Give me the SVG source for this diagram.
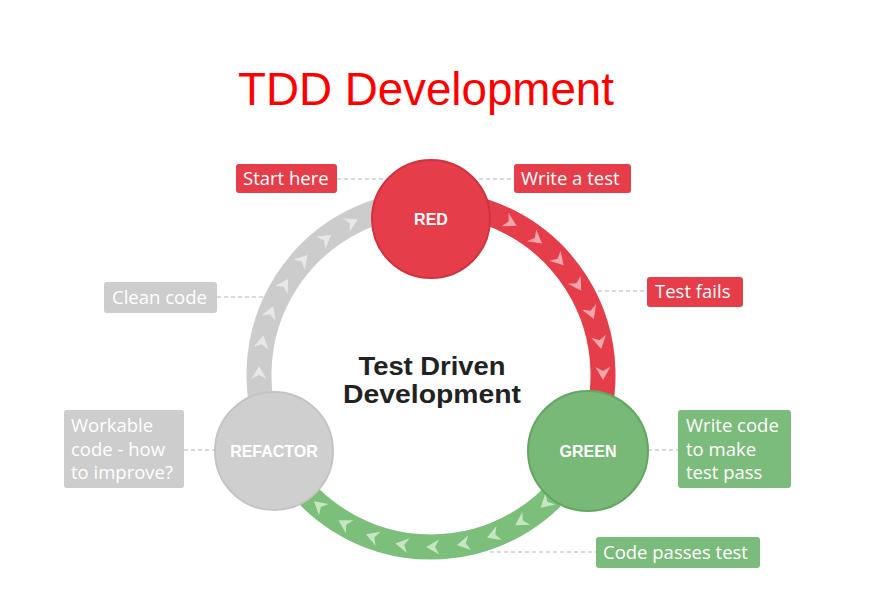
<svg xmlns="http://www.w3.org/2000/svg" xmlns:xlink="http://www.w3.org/1999/xlink" width="872" height="605" viewBox="0 0 872 605">
<defs>
<style>
.title{font-family:"Liberation Sans",Arial,sans-serif;font-size:46px;fill:#ff0000}
.lbl{font-family:"Open Sans","Noto Sans",sans-serif;font-size:18.5px;fill:#ffffff}
.cl{font-family:"Liberation Sans",Arial,sans-serif;font-size:16px;font-weight:bold;fill:#ffffff;text-anchor:middle;dominant-baseline:central}
.mid{font-family:"Liberation Sans",Arial,sans-serif;font-size:25px;font-weight:bold;fill:#222222;text-anchor:middle}
.dash{stroke:#b5b5b5;stroke-width:1;stroke-dasharray:4 3;fill:none}
.ring{fill:none;stroke-width:25}
.rbox{fill:#e63d4a}
.gbox{fill:#7bbb7b}
.ybox{fill:#cdcdcd}
</style>
<polygon id="chev" points="7,0 -6,-7.5 -2,0 -6,7.5"/>
</defs>
<rect width="872" height="605" fill="#ffffff"/>
<text class="title" x="238" y="105" textLength="376" lengthAdjust="spacingAndGlyphs">TDD Development</text>

<g id="connectors">
<path class="ring" stroke="#e63d4a" d="M431,203 A172,172 0 0 1 586.9,447.7"/>
<path class="ring" stroke="#7bbf7b" d="M586.9,447.7 A172,172 0 0 1 275.1,447.7"/>
<path class="ring" stroke="#cccccc" d="M275.1,447.7 A172,172 0 0 1 431,203"/>
<g fill="#f6a5ad">
<use xlink:href="#chev" transform="rotate(-62.5 431 375) translate(603 375) rotate(90)"/>
<use xlink:href="#chev" transform="rotate(-52.2 431 375) translate(603 375) rotate(90)"/>
<use xlink:href="#chev" transform="rotate(-41.9 431 375) translate(603 375) rotate(90)"/>
<use xlink:href="#chev" transform="rotate(-31.6 431 375) translate(603 375) rotate(90)"/>
<use xlink:href="#chev" transform="rotate(-21.3 431 375) translate(603 375) rotate(90)"/>
<use xlink:href="#chev" transform="rotate(-11 431 375) translate(603 375) rotate(90)"/>
<use xlink:href="#chev" transform="rotate(-0.7 431 375) translate(603 375) rotate(90)"/>
</g>
<g fill="#c6e6c2">
<use xlink:href="#chev" transform="rotate(48.1 431 375) translate(603 375) rotate(90)"/>
<use xlink:href="#chev" transform="rotate(58.4 431 375) translate(603 375) rotate(90)"/>
<use xlink:href="#chev" transform="rotate(68.7 431 375) translate(603 375) rotate(90)"/>
<use xlink:href="#chev" transform="rotate(79 431 375) translate(603 375) rotate(90)"/>
<use xlink:href="#chev" transform="rotate(89.3 431 375) translate(603 375) rotate(90)"/>
<use xlink:href="#chev" transform="rotate(99.6 431 375) translate(603 375) rotate(90)"/>
<use xlink:href="#chev" transform="rotate(109.9 431 375) translate(603 375) rotate(90)"/>
<use xlink:href="#chev" transform="rotate(120.2 431 375) translate(603 375) rotate(90)"/>
<use xlink:href="#chev" transform="rotate(130.5 431 375) translate(603 375) rotate(90)"/>
</g>
<g fill="#e8e8e8">
<use xlink:href="#chev" transform="rotate(180.7 431 375) translate(603 375) rotate(90)"/>
<use xlink:href="#chev" transform="rotate(191 431 375) translate(603 375) rotate(90)"/>
<use xlink:href="#chev" transform="rotate(201.3 431 375) translate(603 375) rotate(90)"/>
<use xlink:href="#chev" transform="rotate(211.6 431 375) translate(603 375) rotate(90)"/>
<use xlink:href="#chev" transform="rotate(221.9 431 375) translate(603 375) rotate(90)"/>
<use xlink:href="#chev" transform="rotate(232.2 431 375) translate(603 375) rotate(90)"/>
<use xlink:href="#chev" transform="rotate(242.5 431 375) translate(603 375) rotate(90)"/>
</g>
<line class="dash" x1="337" y1="179" x2="390" y2="179"/>
<line class="dash" x1="472" y1="179" x2="514" y2="179"/>
<line class="dash" x1="598" y1="291" x2="647" y2="291"/>
<line class="dash" x1="217" y1="297" x2="265" y2="297"/>
<line class="dash" x1="184" y1="450" x2="216" y2="450"/>
<line class="dash" x1="648" y1="450" x2="678" y2="450"/>
<line class="dash" x1="490" y1="552" x2="596" y2="552"/>
</g>

<g id="red">
<circle cx="431" cy="219" r="59" fill="#e63d4a" stroke="#d2323f" stroke-width="2"/>
<text class="cl" x="431" y="219">RED</text>
</g>
<g id="green">
<circle cx="588" cy="451" r="60" fill="#78b978" stroke="#62a662" stroke-width="2"/>
<text class="cl" x="588" y="451">GREEN</text>
</g>
<g id="refactor">
<circle cx="274" cy="451" r="59" fill="#cfcfcf" stroke="#c4c4c4" stroke-width="2"/>
<text class="cl" x="274" y="451">REFACTOR</text>
</g>

<g id="center-label">
<text class="mid" x="432" y="375" textLength="147" lengthAdjust="spacingAndGlyphs">Test Driven</text>
<text class="mid" x="432" y="403" textLength="178" lengthAdjust="spacingAndGlyphs">Development</text>
</g>

<g id="start-here">
<rect class="rbox" x="236" y="164" width="101" height="29" rx="3"/>
<text class="lbl" x="243" y="185">Start here</text>
</g>
<g id="write-a-test">
<rect class="rbox" x="514" y="164" width="117" height="29" rx="3"/>
<text class="lbl" x="521" y="185">Write a test</text>
</g>
<g id="test-fails">
<rect class="rbox" x="647" y="277" width="96" height="30" rx="3"/>
<text class="lbl" x="655" y="298">Test fails</text>
</g>
<g id="clean-code">
<rect class="ybox" x="104" y="282" width="113" height="31" rx="3"/>
<text class="lbl" x="112" y="304">Clean code</text>
</g>
<g id="workable">
<rect class="ybox" x="64" y="410" width="120" height="78" rx="3"/>
<text class="lbl" x="71" y="432">Workable</text>
<text class="lbl" x="71" y="456">code - how</text>
<text class="lbl" x="71" y="479">to improve?</text>
</g>
<g id="write-code">
<rect class="gbox" x="678" y="410" width="113" height="78" rx="3"/>
<text class="lbl" x="686" y="432">Write code</text>
<text class="lbl" x="686" y="456">to make</text>
<text class="lbl" x="686" y="479">test pass</text>
</g>
<g id="code-passes">
<rect class="gbox" x="596" y="537" width="164" height="31" rx="3"/>
<text class="lbl" x="603" y="559">Code passes test</text>
</g>
</svg>
